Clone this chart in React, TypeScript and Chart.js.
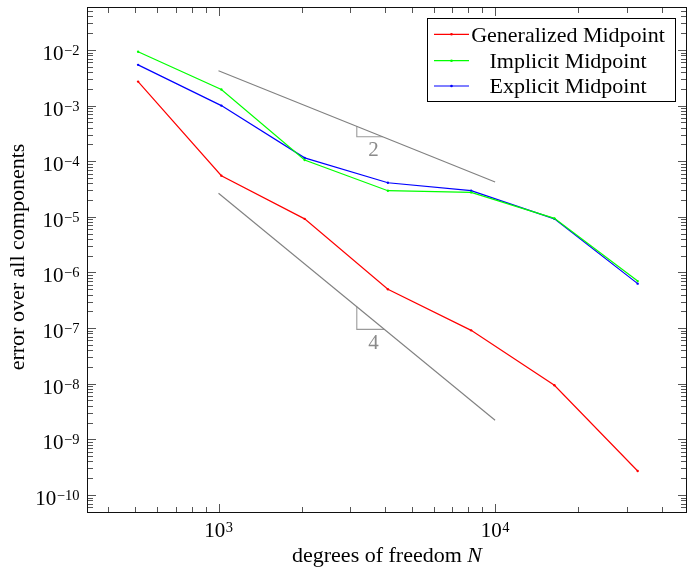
import React, { useEffect, useRef } from "react";
import { Chart, registerables } from "chart.js";
Chart.register(...registerables);

// ---- data ----
const dof = [512, 1024, 2048, 4096, 8192, 16384, 32768];
const generalized = [2.7e-3, 5.5e-5, 9.2e-6, 5.0e-7, 9.1e-8, 9.4e-9, 2.7e-10];
const implicit = [9.3e-3, 1.95e-3, 1.05e-4, 2.95e-5, 2.75e-5, 9.4e-6, 7.0e-7];
const explicit = [5.4e-3, 1.0e-3, 1.15e-4, 4.1e-5, 2.95e-5, 9.2e-6, 6.3e-7];

const seriesNames = ["Generalized Midpoint", "Implicit Midpoint", "Explicit Midpoint"];
const seriesColors = ["#ff0000", "#00ff00", "#0000ff"];

// reference slope lines
const slope2X = [1000, 10000];
const slope2Y = [4.25e-3, 4.25e-5];
const tri2X = [3162, 3162, 3920];
const tri2Y = [4.25e-4, 2.76e-4, 2.76e-4];
const slope4X = [1000, 10000];
const slope4Y = [2.65e-5, 2.2e-9];
const tri4X = [3162, 3162, 3970];
const tri4Y = [2.42e-7, 9.5e-8, 9.5e-8];
const slopeLabels = ["2", "4"];
const slopeLabelX = [3630, 3630];
const slopeLabelY = [1.59e-4, 5.2e-8];

const xMajor = [1e3, 1e4];
const yMajorExp = [-10, -9, -8, -7, -6, -5, -4, -3, -2];
const xMajorExp = [3, 4];

const X_MIN = 336;
const X_MAX = 49200;
const Y_MIN = 4.84e-11;
const Y_MAX = 0.058;

const FONT = '"Liberation Serif", "Times New Roman", serif';

const pts = (xs: number[], ys: number[]) => xs.map((x, i) => ({ x, y: ys[i] }));

const axesPlugin = {
  id: "pgfAxes",
  afterDatasetsDraw(chart: any) {
    const ctx: CanvasRenderingContext2D = chart.ctx;
    const xs = chart.scales.x;
    const ys = chart.scales.y;
    const { left, right, top, bottom } = chart.chartArea;
    ctx.save();

    // slope labels
    ctx.fillStyle = "#8a8a8a";
    ctx.font = `21px ${FONT}`;
    ctx.textAlign = "center";
    ctx.textBaseline = "middle";
    slopeLabels.forEach((t, i) => {
      ctx.fillText(t, xs.getPixelForValue(slopeLabelX[i]), ys.getPixelForValue(slopeLabelY[i]));
    });

    // ticks
    ctx.strokeStyle = "#555";
    ctx.lineWidth = 1;
    const majLen = 8.5;
    const minLen = 5.5;
    ctx.beginPath();
    for (let e = 2; e <= 5; e++) {
      for (let m = 1; m <= 9; m++) {
        const v = m * Math.pow(10, e);
        if (v < X_MIN || v > X_MAX) continue;
        const px = Math.round(xs.getPixelForValue(v)) + 0.5;
        const len = m === 1 ? majLen : minLen;
        ctx.moveTo(px, bottom);
        ctx.lineTo(px, bottom - len);
        ctx.moveTo(px, top);
        ctx.lineTo(px, top + len);
      }
    }
    for (let e = -11; e <= -1; e++) {
      for (let m = 1; m <= 9; m++) {
        const v = m * Math.pow(10, e);
        if (v < Y_MIN || v > Y_MAX) continue;
        const py = Math.round(ys.getPixelForValue(v)) + 0.5;
        const len = m === 1 ? majLen : minLen;
        ctx.moveTo(left, py);
        ctx.lineTo(left + len, py);
        ctx.moveTo(right, py);
        ctx.lineTo(right - len, py);
      }
    }
    ctx.stroke();

    // axis box
    ctx.strokeStyle = "#111";
    ctx.strokeRect(left, top, right - left, bottom - top);

    // y tick labels
    ctx.fillStyle = "#000";
    ctx.textBaseline = "alphabetic";
    ctx.textAlign = "left";
    yMajorExp.forEach((e) => {
      const py = ys.getPixelForValue(Math.pow(10, e));
      ctx.font = `21px ${FONT}`;
      const wb = ctx.measureText("10").width;
      ctx.font = `14.5px ${FONT}`;
      const expStr = "\u2212" + String(-e);
      const we = ctx.measureText(expStr).width;
      const x0 = 79.5 - wb - we - 0.5;
      ctx.font = `21px ${FONT}`;
      ctx.fillText("10", x0, py + 10);
      ctx.font = `14.5px ${FONT}`;
      ctx.fillText(expStr, x0 + wb + 0.5, py + 5);
    });

    // x tick labels
    xMajorExp.forEach((e, i) => {
      const px = xs.getPixelForValue(xMajor[i]);
      ctx.font = `21px ${FONT}`;
      const wb = ctx.measureText("10").width;
      ctx.font = `14.5px ${FONT}`;
      const expStr = String(e);
      const we = ctx.measureText(expStr).width;
      const x0 = px - (wb + we + 0.5) / 2;
      ctx.font = `21px ${FONT}`;
      ctx.fillText("10", x0, 536.7);
      ctx.font = `14.5px ${FONT}`;
      ctx.fillText(expStr, x0 + wb + 0.5, 531.5);
    });

    // x title
    ctx.font = `22px ${FONT}`;
    const t1 = "degrees of freedom ";
    const w1 = ctx.measureText(t1).width;
    ctx.font = `italic 22px ${FONT}`;
    const w2 = ctx.measureText("N").width;
    const cx = (left + right) / 2;
    const sx = cx - (w1 + w2) / 2;
    ctx.font = `22px ${FONT}`;
    ctx.fillText(t1, sx, 562);
    ctx.font = `italic 22px ${FONT}`;
    ctx.fillText("N", sx + w1, 562);

    // y title
    ctx.save();
    ctx.translate(23.5, 257);
    ctx.rotate(-Math.PI / 2);
    ctx.font = `22px ${FONT}`;
    ctx.textAlign = "center";
    ctx.fillText("error over all components", 0, 0);
    ctx.restore();

    // legend
    const bx = 427.5, by = 18.5, bw = 248, bh = 83;
    ctx.fillStyle = "#fff";
    ctx.fillRect(bx, by, bw, bh);
    ctx.strokeStyle = "#000";
    ctx.lineWidth = 1;
    ctx.strokeRect(bx, by, bw, bh);
    const rowY = [34.3, 60.7, 86];
    seriesNames.forEach((name, i) => {
      const ly = rowY[i];
      ctx.strokeStyle = seriesColors[i];
      ctx.lineWidth = 1.2;
      ctx.beginPath();
      ctx.moveTo(434, ly);
      ctx.lineTo(469, ly);
      ctx.stroke();
      ctx.fillStyle = seriesColors[i];
      ctx.beginPath();
      ctx.arc(451.5, ly, 1.3, 0, Math.PI * 2);
      ctx.fill();
      ctx.fillStyle = "#000";
      ctx.font = `22px ${FONT}`;
      ctx.textAlign = "center";
      ctx.fillText(name, 568, ly + 7.3);
    });

    ctx.restore();
  },
};

export default function App() {
  const ref = useRef<HTMLCanvasElement | null>(null);
  useEffect(() => {
    if (!ref.current) return;
    const grayLine = (xs: number[], ys: number[], color: string) => ({
      data: pts(xs, ys),
      borderColor: color,
      borderWidth: 1.1,
      pointRadius: 0,
      fill: false,
      tension: 0,
    });
    const series = [generalized, implicit, explicit].map((vals, i) => ({
      label: seriesNames[i],
      data: pts(dof, vals),
      borderColor: seriesColors[i],
      backgroundColor: seriesColors[i],
      borderWidth: 1.2,
      pointRadius: 1.2,
      pointBorderWidth: 0,
      fill: false,
      tension: 0,
    }));
    const chart = new Chart(ref.current, {
      type: "line",
      data: {
        datasets: [
          grayLine(slope2X, slope2Y, "#808080"),
          grayLine(tri2X, tri2Y, "#9a9a9a"),
          grayLine(slope4X, slope4Y, "#808080"),
          grayLine(tri4X, tri4Y, "#9a9a9a"),
          ...series,
        ] as any,
      },
      options: {
        animation: false,
        responsive: false,
        devicePixelRatio: 1,
        layout: { autoPadding: false, padding: { left: 87.5, top: 7.5, right: 0.5, bottom: 55.5 } },
        plugins: { legend: { display: false }, tooltip: { enabled: false } },
        scales: {
          x: { type: "logarithmic", min: X_MIN, max: X_MAX, display: false },
          y: { type: "logarithmic", min: Y_MIN, max: Y_MAX, display: false },
        },
      } as any,
      plugins: [axesPlugin],
    });
    return () => chart.destroy();
  }, []);
  return (
    <div style={{ position: "fixed", left: 0, top: 0, width: 687, height: 568, background: "#fff" }}>
      <canvas ref={ref} width={687} height={568} style={{ display: "block", width: 687, height: 568 }} />
    </div>
  );
}
